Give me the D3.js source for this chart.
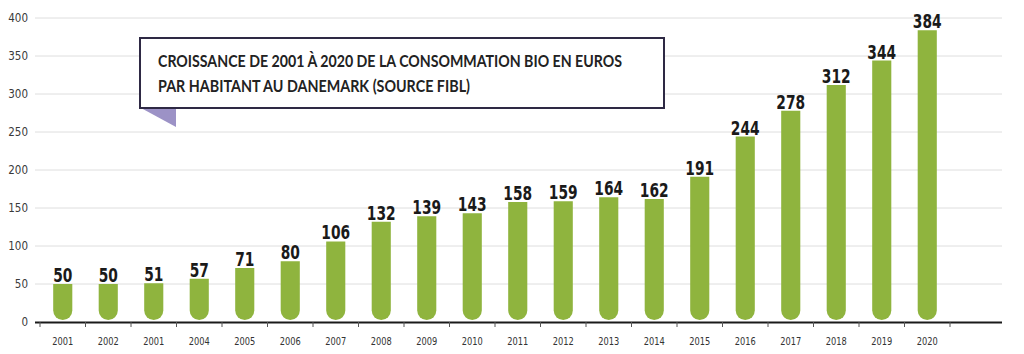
<!DOCTYPE html>
<html><head><meta charset="utf-8">
<script src="https://cdn.jsdelivr.net/npm/d3@7"></script>
<style>
html,body{margin:0;padding:0;background:#fff;}
svg{display:block;}
</style></head>
<body>
<svg id="chart" width="1024" height="354"></svg>
<script>
const yearLabels = ["2001","2002","2001","2004","2005","2006","2007","2008","2009","2010","2011","2012","2013","2014","2015","2016","2017","2018","2019","2020"];
const values = [50,50,51,57,71,80,106,132,139,143,158,159,164,162,191,244,278,312,344,384];
const yTicks = [0,50,100,150,200,250,300,350,400];
const titleLines = ["CROISSANCE DE 2001 À 2020 DE LA CONSOMMATION BIO EN EUROS","PAR HABITANT AU DANEMARK (SOURCE FIBL)"];

const svg = d3.select("#chart");
const narrow = "'DejaVu Sans Condensed','Liberation Sans Narrow',sans-serif";

const x = d3.scaleBand().domain(d3.range(values.length)).range([40, 950]).paddingInner(0).paddingOuter(0);
const y = d3.scaleLinear().domain([0, 400]).range([322, 18]);
const gridX0 = 35, gridX1 = 1002;

// gridlines
svg.append("g").selectAll("line").data(yTicks.filter(d => d > 0)).join("line")
  .attr("x1", gridX0).attr("x2", gridX1)
  .attr("y1", d => y(d)).attr("y2", d => y(d))
  .attr("stroke", "#dedede").attr("stroke-width", 1);

// y labels
svg.append("g").selectAll("text").data(yTicks).join("text")
  .attr("x", 28).attr("y", d => y(d)).attr("dy", "0.35em")
  .attr("text-anchor", "end")
  .attr("font-family", narrow).attr("font-size", 11.5).attr("fill", "#3a3a3a")
  .text(d => d);

// bars with rounded bottoms
const bw = x.bandwidth() * 0.42;
const barBottom = y(0) - 2;
svg.append("g").selectAll("path").data(values).join("path")
  .attr("d", (d, i) => {
    const cx = x(i) + x.bandwidth() / 2;
    const l = cx - bw / 2, r = cx + bw / 2, t = y(d), rad = bw / 2;
    return `M${l},${t}H${r}V${barBottom - rad}A${rad},${rad} 0 0 1 ${l},${barBottom - rad}Z`;
  })
  .attr("fill", "#8fb43e");

// value labels
svg.append("g").selectAll("text").data(values).join("text")
  .attr("x", (d, i) => x(i) + x.bandwidth() / 2)
  .attr("y", d => y(d) - 2)
  .attr("text-anchor", "middle")
  .attr("font-family", narrow).attr("font-weight", "bold").attr("font-size", 19)
  .attr("textLength", d => String(d).length * 9.6).attr("lengthAdjust", "spacingAndGlyphs")
  .attr("fill", "#1a1a1a")
  .text(d => d);

// x axis line
svg.append("line").attr("x1", gridX0).attr("x2", gridX1).attr("y1", y(0) + 0.5).attr("y2", y(0) + 0.5)
  .attr("stroke", "#1a1a1a").attr("stroke-width", 2);
// ticks at band boundaries
const bounds = d3.range(values.length + 1).map(i => i < values.length ? x(i) : x(values.length - 1) + x.bandwidth());
svg.append("g").selectAll("line").data(bounds).join("line")
  .attr("x1", d => d).attr("x2", d => d).attr("y1", y(0)).attr("y2", y(0) + 5)
  .attr("stroke", "#555").attr("stroke-width", 1);

// year labels
svg.append("g").selectAll("text").data(yearLabels).join("text")
  .attr("x", (d, i) => x(i) + x.bandwidth() / 2)
  .attr("y", 341).attr("dy", "0.35em")
  .attr("text-anchor", "middle")
  .attr("font-family", narrow).attr("font-size", 11).attr("fill", "#333")
  .attr("textLength", 21).attr("lengthAdjust", "spacingAndGlyphs")
  .text(d => d);

// title box
const box = svg.append("g");
box.append("polygon").attr("points", "141,108 176,108 176,127").attr("fill", "#9c92c6");
box.append("rect").attr("x", 140).attr("y", 38).attr("width", 524).attr("height", 70)
  .attr("fill", "#fff").attr("stroke", "#2e2944").attr("stroke-width", 2);
const lens = [464, 312];
box.selectAll("text.t").data(titleLines).join("text").attr("class", "t")
  .attr("x", 158).attr("y", (d, i) => 67 + i * 25)
  .attr("font-family", "Lato, 'Open Sans', sans-serif").attr("font-weight", "bold").attr("font-size", 17)
  .attr("fill", "#222")
  .attr("textLength", (d, i) => lens[i]).attr("lengthAdjust", "spacingAndGlyphs")
  .text(d => d);
</script>
</body></html>
